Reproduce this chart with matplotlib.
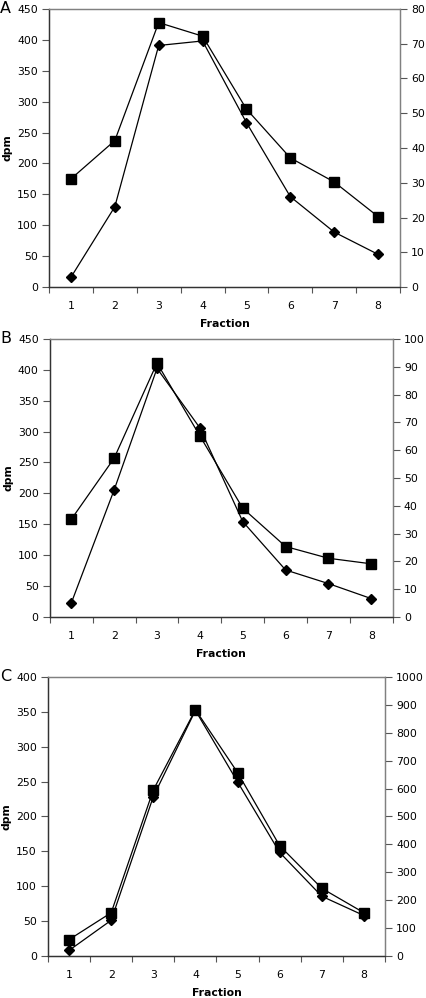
import numpy as np
import matplotlib.pyplot as plt
from matplotlib.ticker import MultipleLocator, FixedLocator, NullFormatter

plt.rcParams['font.family'] = 'DejaVu Sans'

fraction = [1, 2, 3, 4, 5, 6, 7, 8]

# panel A
A_sq = [175, 237, 428, 406, 288, 209, 170, 114]          # left axis (dpm)
A_di = [2.8, 23.1, 69.5, 70.8, 47.3, 26.0, 15.8, 9.4]     # right axis
# panel B
B_sq = [158, 257, 411, 293, 176, 114, 95, 86]
B_di = [5.0, 45.7, 89.4, 68.0, 34.3, 16.9, 12.0, 6.6]
# panel C
C_sq = [23.5, 62, 238, 353, 263, 158, 97, 62]
C_di = [20, 128, 571, 880, 624, 371, 214, 145]

panels = [
    ("A", A_sq, A_di, 450, 50, 80, 10, [0.115, 0.7124, 0.824, 0.2786]),
    ("B", B_sq, B_di, 450, 50, 100, 10, [0.117, 0.3818, 0.805, 0.2786]),
    ("C", C_sq, C_di, 400, 50, 1000, 100, [0.1127, 0.0421, 0.791, 0.2796]),
]

fig = plt.figure(figsize=(4.26, 9.98), dpi=100)
fs = 7.8

for letter, sq, di, ymax, ystep, rmax, rstep, pos in panels:
    ax = fig.add_axes(pos)
    ax2 = ax.twinx()

    ax.plot(fraction, sq, color='black', lw=0.9, marker='s', ms=7.5,
            zorder=3, clip_on=False)
    ax2.plot(fraction, di, color='black', lw=0.9, marker='D', ms=5,
             zorder=3, clip_on=False)

    ax.set_xlim(0.5, 8.5)
    ax.set_ylim(0, ymax)
    ax2.set_ylim(0, rmax)
    ax.yaxis.set_major_locator(MultipleLocator(ystep))
    ax2.yaxis.set_major_locator(MultipleLocator(rstep))

    ax.xaxis.set_major_locator(FixedLocator(fraction))
    ax.xaxis.set_minor_locator(FixedLocator(np.arange(0.5, 9, 1)))
    ax.xaxis.set_minor_formatter(NullFormatter())
    ax.tick_params(axis='x', which='major', length=0, pad=10, labelsize=fs)
    ax.tick_params(axis='x', which='minor', length=4, width=0.8,
                   color='#555555', direction='out')
    ax.tick_params(axis='y', length=5, width=0.8, color='#555555',
                   direction='out', pad=3, labelsize=fs)
    ax2.tick_params(axis='y', length=5, width=0.8, color='#555555',
                    direction='out', pad=3, labelsize=fs)

    for a in (ax, ax2):
        a.spines['left'].set_color('#333333')
        a.spines['bottom'].set_color('#333333')
        a.spines['top'].set_color('#808080')
        a.spines['right'].set_color('#808080')
        for s in a.spines.values():
            s.set_linewidth(0.9)

    ax.set_xlabel('Fraction', fontsize=fs, fontweight='bold', labelpad=6)
    ax.set_ylabel('dpm', fontsize=fs, fontweight='bold', labelpad=3)

    # panel letter at the far left edge of the figure
    top = pos[1] + pos[3]
    fig.text(0.0, top, letter, fontsize=11.5, ha='left', va='center')

fig.savefig('out.png', dpi=100)
